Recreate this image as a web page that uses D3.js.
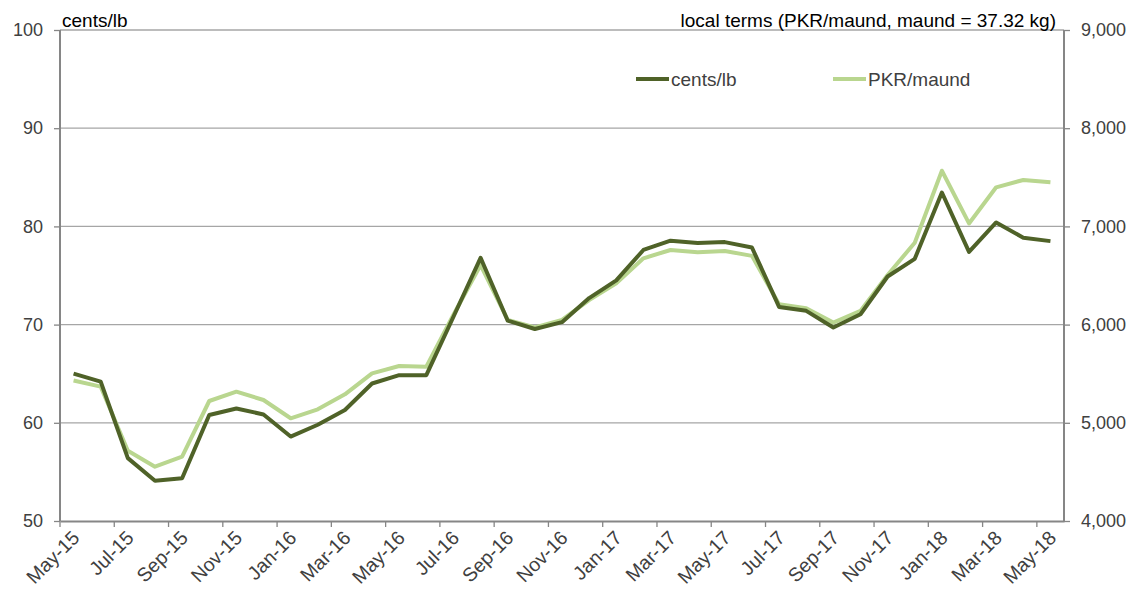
<!DOCTYPE html>
<html>
<head>
<meta charset="utf-8">
<script src="https://cdn.jsdelivr.net/npm/d3@7"></script>
<style>
  body { margin: 0; background: #fff; }
  svg { font-family: "Liberation Sans", Arial, sans-serif; }
</style>
</head>
<body>
<div id="chart"></div>
<script>
const months = ["May-15","Jun-15","Jul-15","Aug-15","Sep-15","Oct-15","Nov-15","Dec-15",
  "Jan-16","Feb-16","Mar-16","Apr-16","May-16","Jun-16","Jul-16","Aug-16","Sep-16","Oct-16",
  "Nov-16","Dec-16","Jan-17","Feb-17","Mar-17","Apr-17","May-17","Jun-17","Jul-17","Aug-17",
  "Sep-17","Oct-17","Nov-17","Dec-17","Jan-18","Feb-18","Mar-18","Apr-18","May-18"]

const centsLb = [65.0, 64.2, 56.4, 54.1, 54.35, 60.8, 61.45, 60.85, 58.6, 59.8, 61.3, 64.0,
  64.85, 64.85, 70.8, 76.8, 70.4, 69.55, 70.25, 72.7, 74.5, 77.6, 78.55, 78.3, 78.4, 77.85,
  71.8, 71.4, 69.7, 71.05, 74.9, 76.7, 83.45, 77.4, 80.4, 78.85, 78.5]

const pkrMaund = [5430, 5368, 4716, 4553, 4655, 5222, 5317, 5232, 5046, 5137, 5290, 5504,
  5578, 5571, 6100, 6607, 6047, 5972, 6047, 6250, 6420, 6675, 6760, 6736, 6750, 6700,
  6207, 6166, 6020, 6140, 6505, 6834, 7567, 7030, 7398, 7473, 7449]

const leftTicks = [50, 60, 70, 80, 90, 100]
const rightTicks = [4000, 5000, 6000, 7000, 8000, 9000]

const W = 1135, H = 592
const PLOT = {LEFT: 60, RIGHT: 1064, TOP: 30, BOTTOM: 521}
const DARK = "#4f6228", LIGHT = "#b9d68f"
const AXIS = "#868686", GRID = "#a6a6a6", LABEL = "#404040"
const FS = "19px"

const svg = d3.select("#chart").append("svg")
  .attr("width", W)
  .attr("height", H)

const x = d3.scaleBand()
  .domain(months)
  .range([PLOT.LEFT, PLOT.RIGHT])
  .padding(0)

const yL = d3.scaleLinear().domain([50, 100]).range([PLOT.BOTTOM, PLOT.TOP])
const yR = d3.scaleLinear().domain([4000, 9000]).range([PLOT.BOTTOM, PLOT.TOP])

const cx = d => x(d) + x.bandwidth() / 2

// gridlines
svg.append("g")
  .selectAll("line")
  .data(leftTicks.slice(1))
  .enter().append("line")
    .attr("x1", PLOT.LEFT)
    .attr("x2", PLOT.RIGHT)
    .attr("y1", d => yL(d))
    .attr("y2", d => yL(d))
    .attr("stroke", GRID)
    .attr("stroke-width", 1.3)

// left axis
const leftAxis = svg.append("g")
  .attr("transform", `translate(${PLOT.LEFT},0)`)
  .call(d3.axisLeft(yL).tickValues(leftTicks).tickSize(6).tickPadding(11).tickFormat(d3.format("d")))
leftAxis.select(".domain").attr("stroke", AXIS).attr("stroke-width", 2).attr("d", `M0,${PLOT.TOP}V${PLOT.BOTTOM}`)
leftAxis.selectAll(".tick line").attr("stroke", AXIS).attr("stroke-width", 1.3)
leftAxis.selectAll(".tick text").attr("fill", LABEL).style("font-size", "18px").attr("font-family", null)

// right axis
const rightAxis = svg.append("g")
  .attr("transform", `translate(${PLOT.RIGHT},0)`)
  .call(d3.axisRight(yR).tickValues(rightTicks).tickSize(6).tickPadding(11).tickFormat(d3.format(",")))
rightAxis.select(".domain").attr("stroke", AXIS).attr("stroke-width", 2).attr("d", `M0,${PLOT.TOP}V${PLOT.BOTTOM}`)
rightAxis.selectAll(".tick line").attr("stroke", AXIS).attr("stroke-width", 1.3)
rightAxis.selectAll(".tick text").attr("fill", LABEL).style("font-size", "18px").attr("font-family", null)

// bottom axis: ticks at category boundaries, every second month
const tickMonths = months.filter((d, i) => i % 2 === 0)
const bottomAxis = svg.append("g")
  .attr("transform", `translate(0,${PLOT.BOTTOM})`)
  .call(d3.axisBottom(x).tickValues(tickMonths).tickSize(6).tickSizeOuter(0))
bottomAxis.select(".domain").attr("stroke", AXIS).attr("stroke-width", 2)
bottomAxis.selectAll(".tick line")
  .attr("stroke", AXIS).attr("stroke-width", 1.3)
  .attr("transform", `translate(${-x.bandwidth() / 2},0)`)
bottomAxis.selectAll(".tick text")
  .attr("fill", LABEL)
  .attr("font-family", null)
  .style("font-size", "19.5px")
  .attr("text-anchor", "end")
  .attr("dy", null)
  .attr("y", 0)
  .attr("transform", "translate(7,18) rotate(-45)")

// lines
const lineL = d3.line().x((d, i) => cx(months[i])).y(d => yL(d))
const lineR = d3.line().x((d, i) => cx(months[i])).y(d => yR(d))

svg.append("path")
  .datum(pkrMaund)
  .attr("d", lineR)
  .attr("fill", "none")
  .attr("stroke", LIGHT)
  .attr("stroke-width", 4)
  .attr("stroke-linejoin", "round")

svg.append("path")
  .datum(centsLb)
  .attr("d", lineL)
  .attr("fill", "none")
  .attr("stroke", DARK)
  .attr("stroke-width", 4)
  .attr("stroke-linejoin", "round")

// axis titles
svg.append("text")
  .attr("x", 62)
  .attr("y", 27)
  .style("font-size", FS)
  .attr("fill", "#000")
  .text("cents/lb")

svg.append("text")
  .attr("x", 1056)
  .attr("y", 27)
  .attr("text-anchor", "end")
  .style("font-size", FS)
  .attr("fill", "#000")
  .text("local terms (PKR/maund, maund = 37.32 kg)")

// legend
const legend = [
  {name: "cents/lb", color: DARK, x: 636},
  {name: "PKR/maund", color: LIGHT, x: 833}
]
const lg = svg.append("g")
lg.selectAll("line")
  .data(legend)
  .enter().append("line")
    .attr("x1", d => d.x)
    .attr("x2", d => d.x + 33)
    .attr("y1", 79)
    .attr("y2", 79)
    .attr("stroke", d => d.color)
    .attr("stroke-width", 4)
lg.selectAll("text")
  .data(legend)
  .enter().append("text")
    .attr("x", d => d.x + 35)
    .attr("y", 85.5)
    .style("font-size", FS)
    .attr("fill", LABEL)
    .text(d => d.name)
</script>
</body>
</html>
